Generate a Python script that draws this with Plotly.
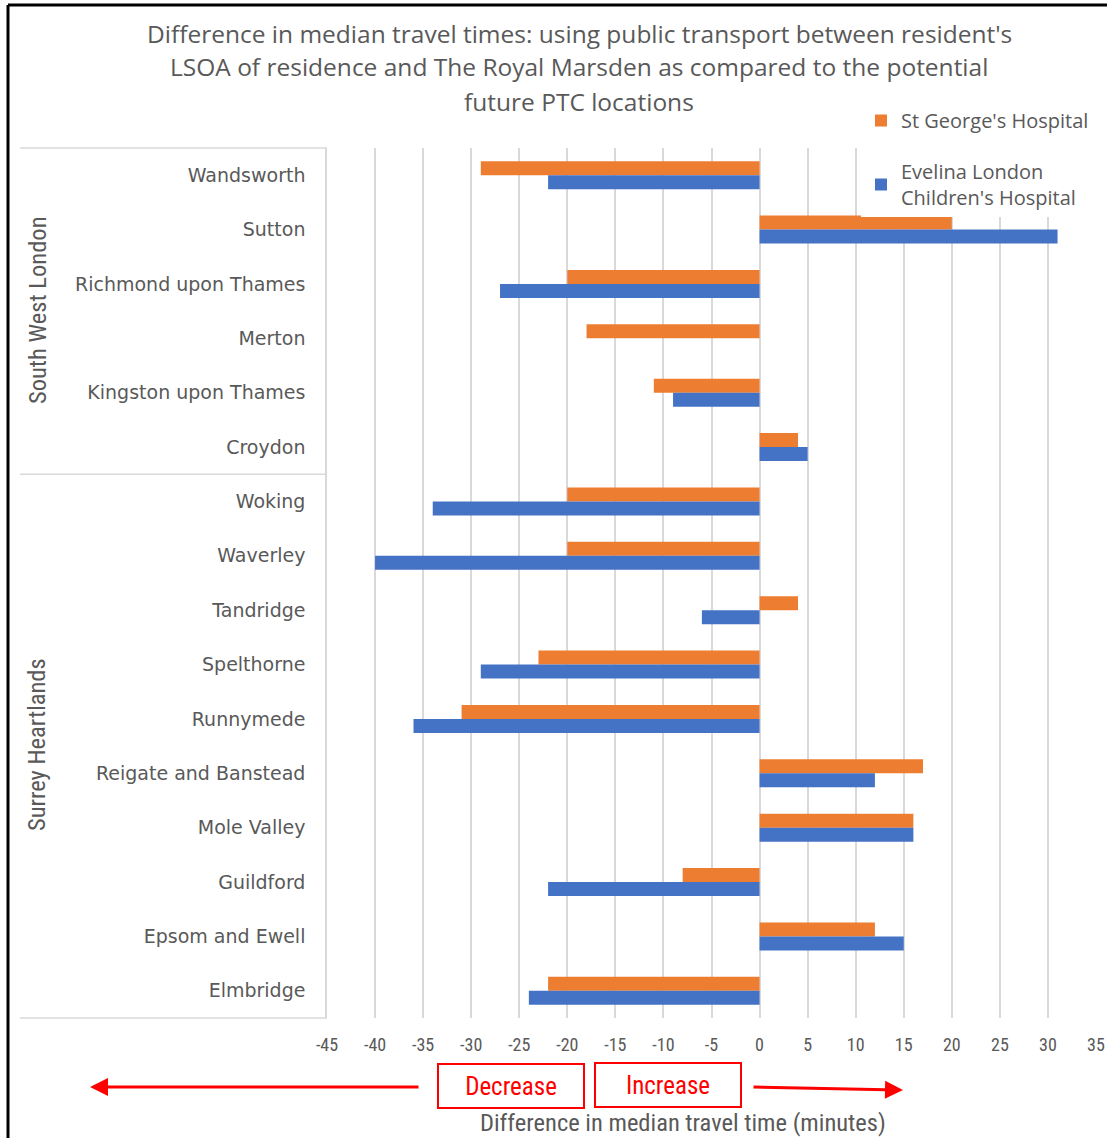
import plotly.graph_objects as go

categories = ["Wandsworth", "Sutton", "Richmond upon Thames", "Merton", "Kingston upon Thames", "Croydon",
              "Woking", "Waverley", "Tandridge", "Spelthorne", "Runnymede", "Reigate and Banstead",
              "Mole Valley", "Guildford", "Epsom and Ewell", "Elmbridge"]
st_georges = [-29, 20, -20, -18, -11, 4, -20, -20, 4, -23, -31, 17, 16, -8, 12, -22]
evelina = [-22, 31, -27, None, -9, 5, -34, -40, -6, -29, -36, 12, 16, -22, 15, -24]
groups = ["South West London", "Surrey Heartlands"]
x_ticks = list(range(-45, 40, 5))
x_tick_text = [str(v) for v in x_ticks]

W, H = 1107, 1138
L, R, T, B = 327, 11, 148, 120
PW, PH = W - L - R, H - T - B

def px(xp):
    return (xp - L) / PW

def py(yp):
    return (H - B - yp) / PH

GREY = "#595959"
NARROW = "Liberation Sans Narrow, Roboto Condensed, Open Sans, sans-serif"

fig = go.Figure()
fig.add_trace(go.Bar(y=categories, x=st_georges, orientation="h", name="St George's Hospital",
                     marker=dict(color="#ED7D31", line=dict(width=0)), legendgroup="a"))
fig.add_trace(go.Bar(y=categories, x=evelina, orientation="h", name="Evelina London<br>Children's Hospital",
                     marker=dict(color="#4472C4", line=dict(width=0)), legendgroup="b"))

fig.update_layout(
    width=W, height=H,
    margin=dict(l=L, r=R, t=T, b=B, autoexpand=False),
    paper_bgcolor="white", plot_bgcolor="white",
    barmode="group", bargap=0.485, bargroupgap=0,
    showlegend=True,
    legend=dict(x=px(861), y=py(101), xanchor="left", yanchor="top", bgcolor="white",
                font=dict(family="Open Sans", size=20, color=GREY),
                traceorder="grouped", tracegroupgap=22, itemwidth=30),
    xaxis=dict(range=[-45, 35], tickvals=x_ticks, ticktext=x_tick_text, showgrid=True,
               gridcolor="#D9D9D9", gridwidth=1.5, automargin=False,
               zeroline=False, showline=False, ticks="",
               tickfont=dict(family=NARROW, size=18, color=GREY), ticklabelstandoff=14),
    yaxis=dict(autorange="reversed", type="category", showgrid=False, zeroline=False,
               showline=True, linecolor="#D9D9D9", linewidth=1.5, ticks="", automargin=False,
               tickfont=dict(family="DejaVu Sans", size=19, color=GREY), ticklabelstandoff=16),
)

shapes = []
# outer black frame
shapes.append(dict(type="line", xref="paper", yref="paper", x0=px(8), x1=px(W + 5), y0=py(5), y1=py(5),
                   line=dict(color="black", width=3)))
shapes.append(dict(type="line", xref="paper", yref="paper", x0=px(8), x1=px(8), y0=py(5), y1=py(H + 5),
                   line=dict(color="black", width=3)))
# category box lines
for yp in (148, 1018):
    shapes.append(dict(type="line", xref="paper", yref="paper", x0=px(20), x1=0, y0=py(yp), y1=py(yp),
                       line=dict(color="#D9D9D9", width=1.5)))
shapes.append(dict(type="line", xref="paper", yref="y", x0=px(20), x1=0, y0=5.5, y1=5.5,
                   line=dict(color="#D9D9D9", width=1.5)))
fig.update_layout(shapes=shapes)

ann = []
title_lines = ["Difference in median travel times: using public transport between resident's",
               "LSOA of residence and The Royal Marsden as compared to the potential",
               "future PTC locations"]
for i, line in enumerate(title_lines):
    ann.append(dict(text=line, xref="paper", yref="paper", x=px(579), y=py(33 + 34 * i),
                    xanchor="center", yanchor="middle", showarrow=False,
                    font=dict(family="Open Sans", size=24.5, color=GREY)))
# group labels
ann.append(dict(text=groups[0], xref="paper", yref="paper", x=px(37), y=py(310), textangle=-90,
                xanchor="center", yanchor="middle", showarrow=False,
                font=dict(family=NARROW, size=24.5, color=GREY)))
ann.append(dict(text=groups[1], xref="paper", yref="paper", x=px(37), y=py(745), textangle=-90,
                xanchor="center", yanchor="middle", showarrow=False,
                font=dict(family=NARROW, size=24.5, color=GREY)))
# axis title
ann.append(dict(text="Difference in median travel time (minutes)", xref="paper", yref="paper",
                x=px(683), y=py(1122), xanchor="center", yanchor="middle", showarrow=False,
                font=dict(family=NARROW, size=24.5, color=GREY)))
# Decrease / Increase boxes
ann.append(dict(text="Decrease", xref="paper", yref="paper", x=px(511), y=py(1086),
                xanchor="center", yanchor="middle", showarrow=False, width=144, height=42,
                bordercolor="#FF0000", borderwidth=2, borderpad=0, bgcolor="white",
                font=dict(family=NARROW, size=25, color="#FF0000")))
ann.append(dict(text="Increase", xref="paper", yref="paper", x=px(668), y=py(1085),
                xanchor="center", yanchor="middle", showarrow=False, width=144, height=42,
                bordercolor="#FF0000", borderwidth=2, borderpad=0, bgcolor="white",
                font=dict(family=NARROW, size=25, color="#FF0000")))
# arrows
ann.append(dict(text="", xref="paper", yref="paper", x=px(90), y=py(1087), ax=330, ay=0,
                showarrow=True, arrowhead=2, arrowsize=1.2, arrowwidth=3, arrowcolor="#FF0000"))
ann.append(dict(text="", xref="paper", yref="paper", x=px(903), y=py(1090), ax=-151, ay=-3,
                showarrow=True, arrowhead=2, arrowsize=1.2, arrowwidth=3, arrowcolor="#FF0000"))
fig.update_layout(annotations=ann)

fig.write_html("out.html", config={"displayModeBar": False},
               post_script="document.body.style.margin='0px';")
